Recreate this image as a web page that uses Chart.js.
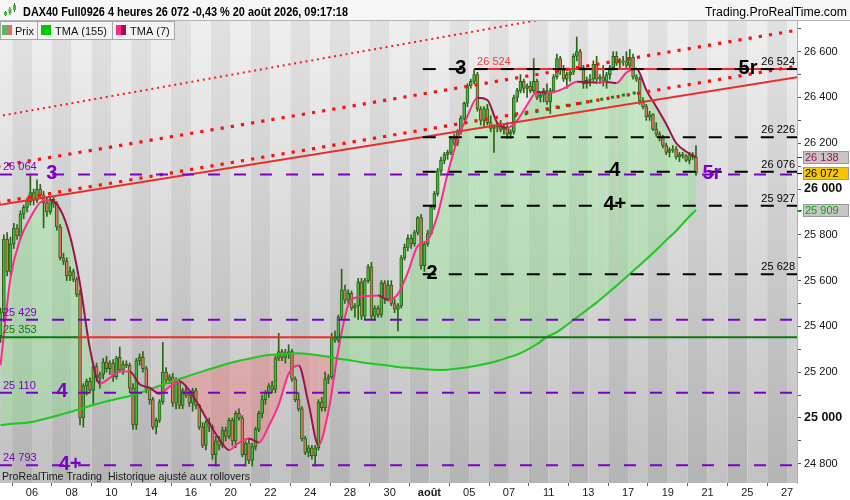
<!DOCTYPE html>
<html>
<head>
<meta charset="utf-8">
<script src="https://cdn.jsdelivr.net/npm/chart.js@4.4.1/dist/chart.umd.min.js"></script>
<style>
  html, body { margin: 0; padding: 0; background: #fff; }
  #wrap { width: 850px; height: 500px; }
</style>
</head>
<body>
<div id="wrap"><canvas id="chart" width="850" height="500"></canvas></div>
<script>
// 4h bars, 6 per trading day, bar 0 = Jul 6 first bar
const BARS_PER_DAY = 6;
const FIRST_BAR = -10;

const opens = [
  25360, 25460, 25780, 25640,                 // Jul 2
  25760, 25830, 25795, 25890, 25920, 25945,   // Jul 3
  25985, 25950, 26000, 25975, 25940, 25900,   // Jul 6
  25955, 25935, 25835, 25700, 25685, 25620,   // Jul 7
  25640, 25605, 25540, 25000, 25140, 25160,   // Jul 8
  25120, 25225, 25175, 25190, 25245, 25215,   // Jul 9
  25240, 25180, 25265, 25210, 25235, 25230,   // Jul 10
  25130, 24970, 25250, 25265, 25215, 25125,   // Jul 13
  25080, 24960, 24990, 25070, 25200, 25165,   // Jul 14
  25180, 25065, 25160, 25055, 25120, 25100,   // Jul 15
  25065, 25120, 25055, 24960, 24880, 24980,   // Jul 16
  24960, 24840, 24900, 24880, 24945, 24920,   // Jul 17
  24990, 24900, 25020, 25000, 24840, 24890,   // Jul 20
  24815, 24875, 24950, 25020, 25080, 25110,   // Jul 21
  25140, 25125, 25260, 25290, 25265, 25285,   // Jul 22
  25290, 25170, 25080, 25040, 24910, 24850,   // Jul 23
  24870, 24835, 24870, 25070, 25045, 25170,   // Jul 24
  25180, 25350, 25340, 25440, 25560, 25515,   // Jul 27
  25545, 25480, 25490, 25595, 25445, 25600,   // Jul 28
  25660, 25445, 25480, 25450, 25590, 25520,   // Jul 29
  25580, 25500, 25475, 25490, 25700, 25745,   // Jul 30
  25785, 25760, 25810, 25875, 25665, 25760,   // Jul 31
  25805, 25920, 25980, 26080, 26125, 26150,   // Aug 3
  26160, 26220, 26200, 26250, 26310, 26375,   // Aug 4
  26450, 26470, 26500, 26350, 26300, 26350,   // Aug 5
  26290, 26265, 26270, 26280, 26260, 26270,   // Aug 6
  26240, 26250, 26400, 26430, 26470, 26440,   // Aug 7
  26450, 26430, 26470, 26400, 26410, 26430,   // Aug 10
  26380, 26430, 26490, 26570, 26520, 26480,   // Aug 11
  26500, 26510, 26580, 26600, 26530, 26460,   // Aug 12
  26475, 26480, 26545, 26480, 26490, 26470,   // Aug 13
  26500, 26530, 26580, 26550, 26560, 26555,   // Aug 14
  26540, 26575, 26490, 26480, 26385, 26360,   // Aug 17
  26315, 26325, 26262, 26240, 26225, 26190,   // Aug 18
  26160, 26170, 26175, 26140, 26150, 26145,   // Aug 19
  26125, 26150, 26140                         // Aug 20
];
const highs = [
  25480, 25800, 25810, 25790,
  25850, 25845, 25905, 25930, 25960, 26064,
  26000, 26040, 26020, 25990, 25960, 25965,
  25970, 25945, 25845, 25720, 25700, 25660,
  25650, 25615, 25560, 25150, 25170, 25175,
  25240, 25240, 25200, 25260, 25270, 25250,
  25255, 25270, 25310, 25250, 25250, 25240,
  25150, 25260, 25280, 25290, 25225, 25130,
  25090, 25000, 25080, 25330, 25220, 25190,
  25195, 25175, 25170, 25130, 25140, 25110,
  25130, 25130, 25060, 24980, 24990, 25000,
  24970, 24920, 24920, 24960, 24960, 25000,
  25000, 25030, 25040, 25010, 24900, 24910,
  24890, 24960, 25030, 25100, 25120, 25150,
  25160, 25270, 25370, 25300, 25300, 25320,
  25300, 25180, 25110, 25050, 24920, 24880,
  24880, 24880, 25080, 25090, 25200, 25190,
  25370, 25380, 25450, 25650, 25580, 25560,
  25555, 25500, 25610, 25610, 25610, 25670,
  25680, 25490, 25490, 25600, 25600, 25600,
  25600, 25520, 25500, 25710, 25760, 25800,
  25800, 25820, 25880, 25890, 25770, 25820,
  25930, 25990, 26090, 26140, 26160, 26170,
  26230, 26240, 26260, 26320, 26380, 26460,
  26480, 26524, 26510, 26360, 26360, 26370,
  26320, 26280, 26290, 26300, 26280, 26290,
  26260, 26410, 26440, 26500, 26480, 26460,
  26470, 26570, 26480, 26420, 26440, 26460,
  26440, 26500, 26590, 26580, 26540, 26510,
  26520, 26590, 26664, 26610, 26540, 26490,
  26500, 26560, 26580, 26500, 26540, 26510,
  26540, 26600, 26600, 26570, 26580, 26600,
  26610, 26590, 26500, 26490, 26400, 26370,
  26340, 26330, 26290, 26250, 26235, 26200,
  26180, 26190, 26185, 26160, 26160, 26150,
  26160, 26160, 26190
];
const lows = [
  25330, 25420, 25620, 25620,
  25740, 25780, 25780, 25870, 25900, 25930,
  25930, 25940, 25960, 25830, 25880, 25890,
  25920, 25820, 25690, 25670, 25600, 25600,
  25595, 25530, 24970, 24960, 25100, 25110,
  25060, 25160, 25130, 25170, 25200, 25190,
  25160, 25170, 25200, 25190, 25220, 25110,
  24950, 24950, 25230, 25200, 25110, 25060,
  24950, 24930, 24980, 25060, 25150, 25150,
  25050, 25040, 25040, 25040, 25090, 25050,
  25030, 25040, 24950, 24870, 24860, 24940,
  24820, 24790, 24860, 24870, 24900, 24910,
  24880, 24870, 24990, 24830, 24790, 24800,
  24790, 24860, 24940, 25000, 25060, 25090,
  25110, 25110, 25250, 25250, 25240, 25260,
  25160, 25070, 25030, 24900, 24840, 24830,
  24820, 24790, 24860, 25030, 25030, 25150,
  25170, 25330, 25330, 25430, 25500, 25500,
  25470, 25440, 25430, 25430, 25430, 25590,
  25430, 25430, 25440, 25440, 25500, 25510,
  25490, 25460, 25380, 25480, 25690, 25730,
  25740, 25750, 25800, 25650, 25640, 25750,
  25800, 25910, 25970, 26060, 26110, 26130,
  26150, 26190, 26190, 26240, 26300, 26360,
  26440, 26460, 26340, 26280, 26270, 26280,
  26250, 26160, 26250, 26250, 26240, 26220,
  26220, 26240, 26380, 26420, 26420, 26400,
  26420, 26420, 26390, 26380, 26380, 26370,
  26330, 26420, 26480, 26500, 26470, 26440,
  26470, 26500, 26560, 26520, 26440, 26440,
  26450, 26470, 26460, 26460, 26450, 26440,
  26480, 26520, 26540, 26530, 26540, 26530,
  26530, 26480, 26470, 26370, 26350, 26300,
  26300, 26255, 26230, 26210, 26180, 26150,
  26140, 26160, 26130, 26120, 26135, 26120,
  26110, 26130, 26060
];
const closes = [
  25460, 25780, 25640, 25760,
  25830, 25795, 25890, 25920, 25945, 25985,
  25950, 26000, 25975, 25940, 25900, 25955,
  25935, 25835, 25700, 25685, 25620, 25640,
  25605, 25540, 25000, 25140, 25160, 25120,
  25225, 25175, 25190, 25245, 25215, 25240,
  25180, 25262, 25210, 25235, 25230, 25130,
  24970, 25250, 25265, 25215, 25125, 25080,
  24960, 24990, 25070, 25200, 25165, 25180,
  25065, 25160, 25055, 25120, 25100, 25065,
  25120, 25055, 24960, 24880, 24980, 24960,
  24840, 24900, 24880, 24945, 24920, 24990,
  24900, 25020, 25000, 24840, 24890, 24815,
  24875, 24950, 25020, 25080, 25110, 25140,
  25125, 25260, 25290, 25265, 25285, 25290,
  25170, 25080, 25040, 24910, 24850, 24870,
  24835, 24870, 25070, 25045, 25170, 25180,
  25350, 25340, 25440, 25560, 25515, 25545,
  25480, 25490, 25595, 25445, 25600, 25660,
  25445, 25480, 25450, 25590, 25520, 25580,
  25500, 25475, 25490, 25700, 25745, 25785,
  25760, 25810, 25875, 25665, 25760, 25805,
  25920, 25980, 26080, 26125, 26150, 26160,
  26220, 26200, 26250, 26310, 26375, 26450,
  26470, 26500, 26350, 26300, 26350, 26290,
  26265, 26270, 26280, 26260, 26270, 26240,
  26250, 26400, 26430, 26470, 26440, 26450,
  26430, 26470, 26400, 26410, 26430, 26380,
  26430, 26490, 26570, 26520, 26480, 26500,
  26510, 26580, 26600, 26530, 26460, 26475,
  26480, 26545, 26480, 26490, 26470, 26500,
  26530, 26580, 26550, 26560, 26555, 26540,
  26575, 26490, 26480, 26385, 26360, 26315,
  26325, 26262, 26240, 26225, 26190, 26160,
  26170, 26175, 26140, 26150, 26145, 26125,
  26150, 26140, 26072
];

// moving averages, every 3rd bar
const tmaBars = [-10, -7, -4, -1, 2, 5, 8, 11, 14, 17, 20, 23, 26, 29, 32, 35, 38, 41, 44, 47,
  50, 53, 56, 59, 62, 65, 68, 71, 74, 77, 80, 83, 86, 89, 92, 95, 98, 101, 104, 107,
  110, 113, 116, 119, 122, 125, 128, 131, 134, 137, 140, 143, 146, 149, 152, 155, 158, 161, 164, 167,
  170, 173, 176, 179, 182, 185, 188, 191, 194, 197, 200];
const tma7 = [25231, 25611, 25783, 25875, 25941, 25952, 25912, 25794, 25586, 25303,
  25150, 25175, 25203, 25203, 25147, 25132, 25105, 25136, 25160, 25120,
  25052, 24977, 24909, 24860, 24891, 24910, 24893, 24965, 25058, 25193,
  25229, 25063, 24882, 25029, 25297, 25493, 25528, 25533, 25535, 25515,
  25542, 25636, 25752, 25777, 25888, 26067, 26217, 26319, 26399, 26389,
  26289, 26267, 26300, 26367, 26424, 26422, 26427, 26446, 26469, 26468,
  26465, 26468, 26463, 26509, 26527, 26432, 26359, 26284, 26201, 26164, 26138];
const tma155 = [24969, 24974, 24977, 24981, 24991, 25002, 25014, 25026, 25039, 25052,
  25065, 25076, 25086, 25096, 25109, 25125, 25141, 25156, 25171, 25185,
  25199, 25213, 25226, 25239, 25250, 25259, 25268, 25275, 25278, 25281,
  25283, 25279, 25274, 25267, 25259, 25253, 25246, 25239, 25234, 25229,
  25223, 25219, 25216, 25212, 25210, 25211, 25216, 25222, 25229, 25238,
  25249, 25263, 25277, 25297, 25323, 25354, 25375, 25406, 25439, 25472,
  25504, 25540, 25578, 25616, 25655, 25693, 25734, 25776, 25817, 25865, 25909];

// x axis: trading day index (0 = Jul 6) and its label
const tickDays = [0, 2, 4, 6, 8, 10, 12, 14, 16, 18, 20, 22, 24, 26, 28, 30, 32, 34, 36, 38];
const tickLabels = ['06', '08', '10', '14', '16', '20', '22', '24', '28', '30', 'août',
  '05', '07', '11', '13', '17', '19', '21', '25', '27'];

// drawn levels and trend lines
const purpleLevels = [26064, 25429, 25110, 24793];
const blackLevels = [26524, 26226, 26076, 25927, 25628];
const blackFrom = 117.5;
const pivotLevel = 25353;
const pivotBreaks = [13.4, 90.5];
const highLevel = 26524;
const highFrom = 133;
const trendSolid = [[-11, 25929], [231, 26489]];
const trendDotLow = [[-11, 25941], [231, 26538]];
const trendDotMid = [[-11, 26099], [231, 26695]];
const trendDotHigh = [[-11, 26317], [231, 26941]];
const trendDotGreen = [[145, 26319], [183, 26424]];

// wave counts: text, bar, price, colour key
const waveTags = [
  ['3', 5.5, 26064, 'p'], ['4', 8.6, 25110, 'p'], ['4+', 11, 24793, 'p'], ['5r', 204.8, 26064, 'p'],
  ['3', 129, 26524, 'k'], ['2', 120.3, 25628, 'k'], ['4', 175.5, 26076, 'k'], ['4+', 175.5, 25927, 'k'],
  ['5r', 215.7, 26524, 'k']
];

const X_MIN = -10.16, X_MAX = 230.5;
const Y_MIN = 24716, Y_MAX = 26734;

const FONT = "'Liberation Sans', Arial, sans-serif";
const PURPLE = '#7d00c4', RED = '#ee2b2b', DKGREEN = '#0b7a0b';
const PINK = '#ff2a8c', MAROON = '#a1104e', TMA_GREEN = '#1ec81e';
const UP = '#40bb40', DOWN = '#e2735f', WICK = '#2a6416';

const fmt = v => String(Math.round(v)).replace(/\B(?=(\d{3})+(?!\d))/g, ' ');

const bars = closes.map((_, i) => FIRST_BAR + i);

function lineDs(pts, color, width, dash) {
  return {
    type: 'line',
    data: pts.map(([x, y]) => ({ x, y })),
    borderColor: color,
    borderWidth: width,
    borderDash: dash || [],
    pointRadius: 0,
    fill: false,
    tension: 0,
    order: 1
  };
}

const datasets = [
  {
    type: 'line',
    label: 'TMA (7)',
    data: tmaBars.map((b, i) => ({ x: b, y: tma7[i] })),
    borderColor: PINK,
    borderWidth: 2,
    pointRadius: 0,
    cubicInterpolationMode: 'monotone',
    segment: { borderColor: c => c.p1.parsed.y >= c.p0.parsed.y ? PINK : MAROON },
    fill: { target: 1, above: 'rgba(130,228,130,0.36)', below: 'rgba(240,128,128,0.45)' },
    order: 2
  },
  {
    type: 'line',
    label: 'TMA (155)',
    data: tmaBars.map((b, i) => ({ x: b, y: tma155[i] })),
    borderColor: TMA_GREEN,
    borderWidth: 2,
    pointRadius: 0,
    cubicInterpolationMode: 'monotone',
    fill: false,
    order: 2
  },
  {
    type: 'bar',
    data: bars.map((b, i) => ({ x: b, y: [lows[i], highs[i]] })),
    backgroundColor: WICK,
    borderWidth: 0,
    barThickness: 1,
    grouped: false,
    order: 6
  },
  {
    type: 'bar',
    data: bars.map((b, i) => ({ x: b, y: [opens[i], closes[i]] })),
    backgroundColor: bars.map((_, i) => closes[i] >= opens[i] ? UP : DOWN),
    borderColor: WICK,
    borderWidth: 1,
    borderSkipped: false,
    barThickness: 3,
    grouped: false,
    order: 5
  }
];

purpleLevels.forEach(v => datasets.push(lineDs([[X_MIN, v], [X_MAX, v]], PURPLE, 2, [12, 14])));
blackLevels.forEach(v => datasets.push(lineDs([[blackFrom, v], [X_MAX, v]], '#000', 2, [13, 13])));
datasets.push({
  ...lineDs([[X_MIN, pivotLevel], [pivotBreaks[0], pivotLevel], [pivotBreaks[1], pivotLevel], [X_MAX, pivotLevel]], DKGREEN, 2),
  segment: { borderColor: c => c.p0DataIndex === 1 ? RED : DKGREEN }
});
datasets.push(lineDs(trendSolid, RED, 2));
datasets.push(lineDs(trendDotLow, '#ff1010', 3.2, [3.2, 7.1]));
datasets.push(lineDs(trendDotMid, '#ff1010', 3.2, [3.2, 7.1]));
datasets.push(lineDs(trendDotHigh, '#ff1818', 2, [2, 3.8]));
datasets.push(lineDs(trendDotGreen, '#0a8a0a', 3, [3, 8]));
datasets.push(lineDs([[highFrom, highLevel], [X_MAX, highLevel]], RED, 2));

const backdrop = {
  id: 'backdrop',
  beforeDraw(chart) {
    const { ctx, chartArea: a, scales: { x } } = chart;
    ctx.save();
    ctx.fillStyle = '#fff';
    ctx.fillRect(0, 0, chart.width, chart.height);
    const light = ctx.createLinearGradient(0, a.top, 0, a.bottom);
    light.addColorStop(0, '#efefef');
    light.addColorStop(1, '#c1c1c1');
    const dark = ctx.createLinearGradient(0, a.top, 0, a.bottom);
    dark.addColorStop(0, '#e1e1e1');
    dark.addColorStop(1, '#b4b4b4');
    for (let d = -3; d <= 39; d++) {
      const x0 = Math.max(a.left, x.getPixelForValue(d * BARS_PER_DAY - 0.5));
      const x1 = Math.min(a.right, x.getPixelForValue((d + 1) * BARS_PER_DAY - 0.5));
      if (x1 <= x0) continue;
      ctx.fillStyle = d % 2 === 0 ? light : dark;
      ctx.fillRect(x0, a.top, x1 - x0, a.bottom - a.top);
    }
    ctx.restore();
  }
};

const overlay = {
  id: 'overlay',
  afterDraw(chart) {
    const { ctx, chartArea: a, scales: { x, y } } = chart;
    ctx.save();

    // level captions
    ctx.font = '11px ' + FONT;
    ctx.textBaseline = 'alphabetic';
    ctx.textAlign = 'left';
    ctx.fillStyle = PURPLE;
    purpleLevels.forEach(v => ctx.fillText(fmt(v), a.left + 3, y.getPixelForValue(v) - 4));
    ctx.fillStyle = DKGREEN;
    ctx.fillText(fmt(pivotLevel), a.left + 3, y.getPixelForValue(pivotLevel) - 4);
    ctx.fillStyle = '#f04040';
    ctx.fillText(fmt(highLevel), x.getPixelForValue(highFrom + 0.9), y.getPixelForValue(highLevel) - 4);
    ctx.textAlign = 'right';
    ctx.fillStyle = '#000';
    blackLevels.forEach(v => ctx.fillText(fmt(v), a.right - 2, y.getPixelForValue(v) - 4));

    // wave counts
    ctx.font = 'bold 20px ' + FONT;
    ctx.textAlign = 'center';
    ctx.textBaseline = 'middle';
    waveTags.forEach(([t, b, v, c]) => {
      ctx.fillStyle = c === 'p' ? PURPLE : '#000';
      ctx.fillText(t, x.getPixelForValue(b), y.getPixelForValue(v) - 1);
    });

    // bottom note
    ctx.font = '11.5px ' + FONT;
    ctx.textAlign = 'left';
    ctx.textBaseline = 'alphabetic';
    ctx.fillStyle = '#1a1a1a';
    ctx.fillText('ProRealTime Trading  Historique ajusté aux rollovers', 2, 479.5, 248);

    // price tags on the axis
    const last = closes.length - 1;
    const tags = [
      [tma7[tma7.length - 1], '#c6c6c6', '#a0105a'],
      [closes[last], '#f7c600', '#000'],
      [tma155[tma155.length - 1], '#c6c6c6', '#12a012']
    ];
    ctx.font = '11px ' + FONT;
    ctx.textBaseline = 'middle';
    tags.forEach(([v, bg, fg]) => {
      const py = Math.round(y.getPixelForValue(v));
      ctx.fillStyle = fg;
      ctx.fillRect(a.right, py, 5, 1);
      ctx.fillStyle = bg;
      ctx.fillRect(a.right + 6, py - 6, 46, 13);
      ctx.strokeStyle = '#999';
      ctx.lineWidth = 1;
      ctx.strokeRect(a.right + 6.5, py - 5.5, 45, 12);
      ctx.fillStyle = fg;
      ctx.fillText(fmt(v), a.right + 8, py + 1);
    });

    // header bar
    ctx.fillStyle = '#f6f6f6';
    ctx.fillRect(0, 0, chart.width, a.top);
    ctx.fillStyle = '#b4b4b4';
    ctx.fillRect(0, a.top - 1, chart.width, 1);
    // candle icon
    [[5, 11, 16, 12, 15], [9.5, 7, 15, 9, 13], [14, 3, 12, 5, 10]].forEach(([cx, hi, lo, t, b]) => {
      ctx.fillStyle = WICK;
      ctx.fillRect(cx, hi, 1, lo - hi);
      ctx.fillStyle = UP;
      ctx.fillRect(cx - 1, t, 3, b - t);
    });
    ctx.fillStyle = '#000';
    ctx.textBaseline = 'alphabetic';
    ctx.font = 'bold 12.5px ' + FONT;
    ctx.fillText('DAX40 Full0926 4 heures ' + fmt(closes[last]) + ' -0,43 % 20 août 2026, 09:17:18', 23, 16, 325);
    ctx.font = '12.5px ' + FONT;
    ctx.textAlign = 'right';
    ctx.fillText('Trading.ProRealTime.com', 847, 16, 142);

    // legend boxes
    const boxes = [[0, 37, 'Prix'], [37, 112, 'TMA (155)'], [112, 174, 'TMA (7)']];
    ctx.textAlign = 'left';
    ctx.font = '11px ' + FONT;
    boxes.forEach(([l, r, label], i) => {
      ctx.fillStyle = '#f3f3f3';
      ctx.fillRect(l, a.top, r - l, 18);
      ctx.strokeStyle = '#a6a6a6';
      ctx.strokeRect(l + 0.5, a.top + 0.5, r - l, 18);
      if (i === 0) {
        ctx.fillStyle = '#5cb85c'; ctx.fillRect(l + 2, a.top + 4, 5, 10);
        ctx.fillStyle = '#e06c6c'; ctx.fillRect(l + 7, a.top + 4, 5, 10);
      } else if (i === 1) {
        ctx.fillStyle = '#00c800'; ctx.fillRect(l + 4, a.top + 4, 10, 10);
      } else {
        ctx.fillStyle = PINK; ctx.fillRect(l + 4, a.top + 4, 5, 10);
        ctx.fillStyle = MAROON; ctx.fillRect(l + 9, a.top + 4, 5, 10);
      }
      ctx.fillStyle = '#111';
      ctx.fillText(label, l + (i === 0 ? 15 : 18), a.top + 13.5);
    });

    ctx.restore();
  }
};

new Chart(document.getElementById('chart'), {
  type: 'bar',
  data: { datasets },
  options: {
    responsive: false,
    animation: false,
    events: [],
    layout: { padding: { top: 21, left: 0, right: 0, bottom: 0 } },
    plugins: {
      legend: { display: false },
      tooltip: { enabled: false },
      filler: { drawTime: 'beforeDatasetsDraw', propagate: false }
    },
    scales: {
      x: {
        type: 'linear',
        min: X_MIN,
        max: X_MAX,
        offset: false,
        border: { display: false },
        grid: { drawOnChartArea: false, drawTicks: true, tickLength: 3, color: '#666' },
        afterBuildTicks: s => { s.ticks = tickDays.map(d => ({ value: d * BARS_PER_DAY - 0.5 })); },
        afterFit: s => { s.height = 17; },
        ticks: {
          autoSkip: false,
          maxRotation: 0,
          padding: 0,
          color: '#1a1a1a',
          callback: (v, i) => tickLabels[i],
          font: c => tickLabels[c.index] === 'août'
            ? { family: FONT, size: 11, weight: 'bold' }
            : { family: FONT, size: 11 }
        }
      },
      y: {
        type: 'linear',
        position: 'right',
        min: Y_MIN,
        max: Y_MAX,
        beginAtZero: false,
        border: { display: true, color: '#b0b0b0' },
        grid: { drawOnChartArea: false, tickLength: 4, color: '#555' },
        afterFit: s => { s.width = 53; },
        ticks: {
          stepSize: 100,
          includeBounds: false,
          autoSkip: false,
          maxTicksLimit: 40,
          padding: 3,
          color: '#111',
          callback: v => (v % 200 === 0 ? fmt(v) : ''),
          font: c => (c.tick && c.tick.value % 1000 === 0)
            ? { family: FONT, size: 12.5, weight: 'bold' }
            : { family: FONT, size: 11 }
        }
      }
    }
  },
  plugins: [backdrop, overlay]
});
</script>
</body>
</html>
